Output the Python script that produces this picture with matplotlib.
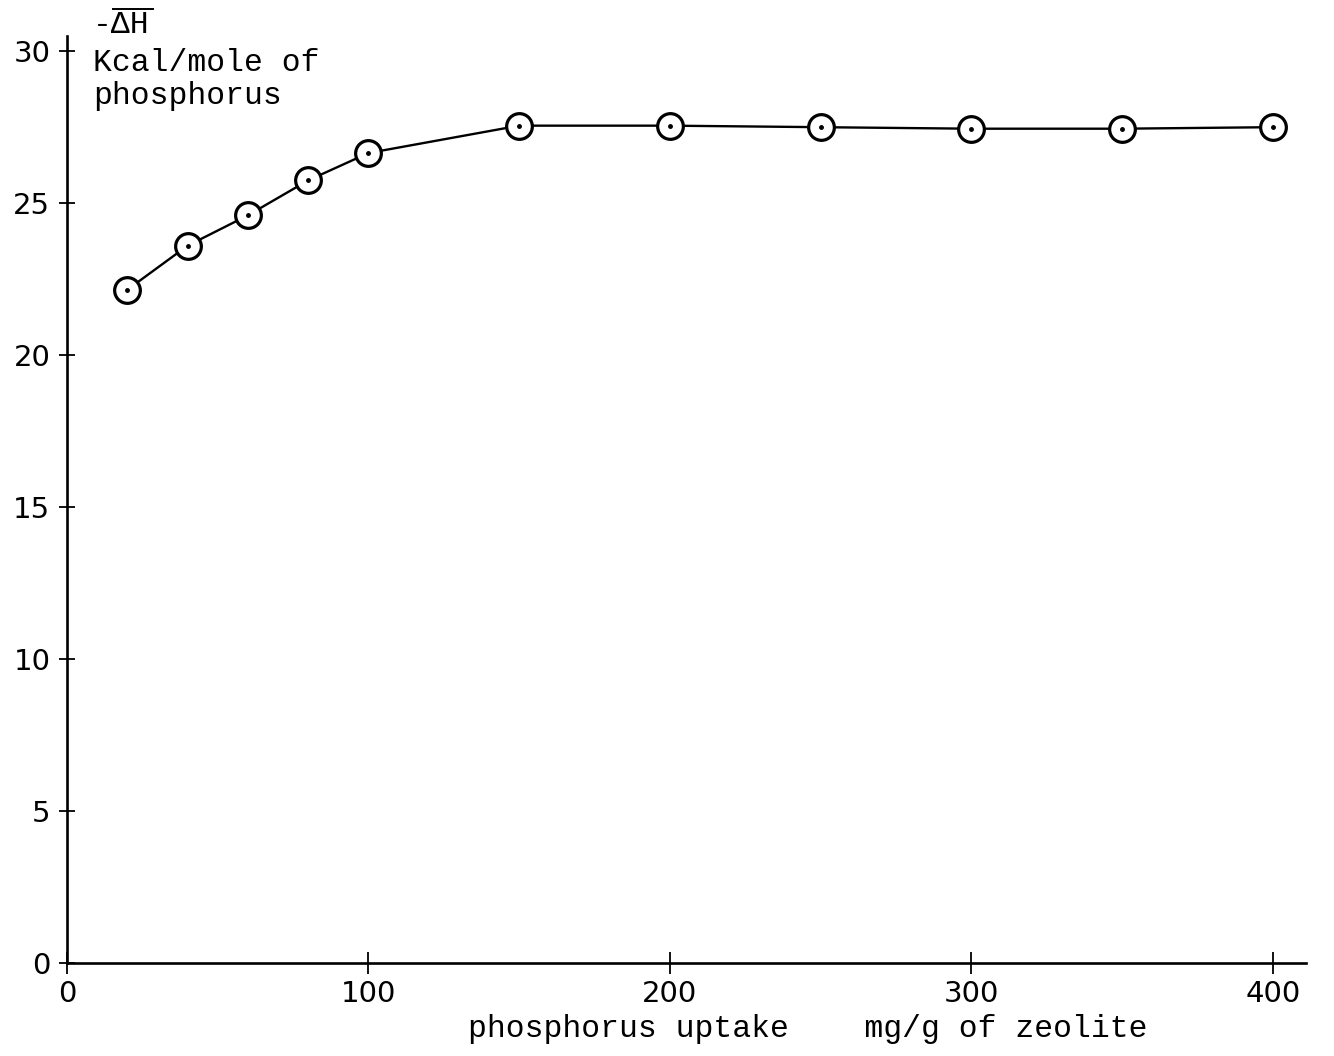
import matplotlib
matplotlib.use("Agg")
import matplotlib.pyplot as plt
from matplotlib.lines import Line2D

# Data
uptake = [20, 40, 60, 80, 100, 150, 200, 250, 300, 350, 400]
delta_h = [22.15, 23.6, 24.6, 25.75, 26.65, 27.55, 27.55, 27.5, 27.45, 27.45, 27.5]
x_ticks = [0, 100, 200, 300, 400]
y_ticks = [0, 5, 10, 15, 20, 25, 30]

mono = "Liberation Mono"

fig = plt.figure(figsize=(13.34, 10.56), dpi=100)
ax = fig.add_axes([67 / 1334, 93 / 1056, (1306 - 67) / 1334, (963 - 36) / 1056])
ax.set_xlim(0, 411)
ax.set_ylim(0, 30.5)

ax.plot(uptake, delta_h, color="black", lw=1.7, zorder=2)
ax.plot(uptake, delta_h, linestyle="none", marker="o", markersize=18.5,
        markerfacecolor="white", markeredgecolor="black", markeredgewidth=2.3, zorder=3)
ax.plot(uptake, delta_h, linestyle="none", marker="o", markersize=2.5,
        color="black", zorder=4)

for s in ("top", "right"):
    ax.spines[s].set_visible(False)
for s in ("left", "bottom"):
    ax.spines[s].set_linewidth(1.9)

ax.set_xticks(x_ticks)
ax.set_yticks(y_ticks)
ax.set_xticklabels([str(v) for v in x_ticks])
ax.set_yticklabels([str(v) for v in y_ticks])
ax.tick_params(axis="x", direction="inout", length=16, width=1.3, pad=4,
               labelsize=21)
ax.tick_params(axis="y", direction="inout", length=12, width=1.3, pad=6,
               labelsize=21)

# axis titles (typewriter style)
fs = 22.6
fig.text(93 / 1334, 1 - 25 / 1056, "-ΔH", family=mono, fontsize=fs,
         va="center", ha="left")
fig.add_artist(Line2D([113 / 1334, 153 / 1334], [1 - 9 / 1056, 1 - 9 / 1056],
                      transform=fig.transFigure, color="black", lw=1.4))
fig.text(93 / 1334, 1 - 63 / 1056, "Kcal/mole of", family=mono, fontsize=fs,
         va="center", ha="left")
fig.text(93 / 1334, 1 - 96 / 1056, "phosphorus", family=mono, fontsize=fs,
         va="center", ha="left")
fig.text(468 / 1334, 1 - 1029 / 1056, "phosphorus uptake    mg/g of zeolite",
         family=mono, fontsize=fs, va="center", ha="left")

fig.savefig("out.png", dpi=100, facecolor="white")
